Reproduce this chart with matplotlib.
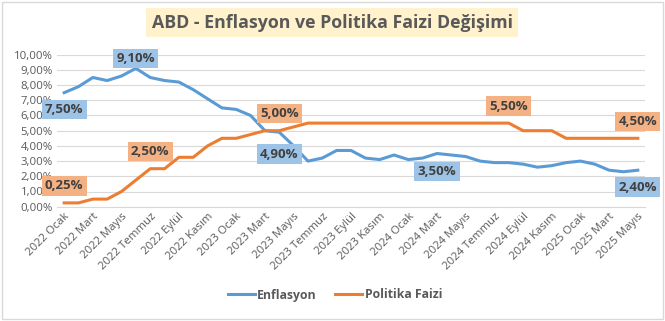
import matplotlib.pyplot as plt
from matplotlib.ticker import FuncFormatter
from matplotlib.patches import Rectangle

# --- datos ---
yillar = [2022] * 12 + [2023] * 12 + [2024] * 12 + [2025] * 5
aylar_ad = ['Ocak', 'Şubat', 'Mart', 'Nisan', 'Mayıs', 'Haziran', 'Temmuz',
            'Ağustos', 'Eylül', 'Ekim', 'Kasım', 'Aralık']
donemler = [f"{y} {aylar_ad[i % 12]}" for i, y in enumerate(yillar)]

enflasyon = [7.5, 7.9, 8.5, 8.3, 8.6, 9.1, 8.5, 8.3, 8.2, 7.7, 7.1, 6.5,
             6.4, 6.0, 5.0, 4.9, 4.0, 3.0, 3.2, 3.7, 3.7, 3.2, 3.1, 3.4,
             3.1, 3.2, 3.5, 3.4, 3.3, 3.0, 2.9, 2.9, 2.8, 2.6, 2.7, 2.9,
             3.0, 2.8, 2.4, 2.3, 2.4]
faiz = [0.25, 0.25, 0.5, 0.5, 1.0, 1.75, 2.5, 2.5, 3.25, 3.25, 4.0, 4.5,
        4.5, 4.75, 5.0, 5.0, 5.25, 5.5, 5.5, 5.5, 5.5, 5.5, 5.5, 5.5,
        5.5, 5.5, 5.5, 5.5, 5.5, 5.5, 5.5, 5.5, 5.0, 5.0, 5.0, 4.5,
        4.5, 4.5, 4.5, 4.5, 4.5]

# etiketli noktalar: (indeks, dikey kayma px)
etiket_enf = [(0, -17), (5, 10), (15, -22), (26, -18), (40, -17)]
etiket_faiz = [(0, 17), (6, 17), (15, 17), (31, 17), (40, 17)]

azul = '#5B9BD5'
naranja = '#ED7D31'
gris = '#595959'

plt.rcParams['font.family'] = ['Open Sans', 'DejaVu Sans']

fig = plt.figure(figsize=(6.65, 3.21), dpi=100)
ax = fig.add_axes([57 / 665, 1 - 206.7 / 321, 588 / 665, 152 / 321])

x = list(range(len(donemler)))
ax.plot(x, enflasyon, color=azul, linewidth=2.2, label='Enflasyon', solid_joinstyle='round')
ax.plot(x, faiz, color=naranja, linewidth=2.2, label='Politika Faizi', solid_joinstyle='round')

def etiket(seri, lista, fondo):
    for i, dy in lista:
        ax.annotate(f"{seri[i]:.2f}%".replace('.', ','), (i, seri[i]),
                    xytext=(0, dy), textcoords='offset pixels',
                    ha='center', va='center', fontsize=9.5, fontweight='bold',
                    color='#404040',
                    bbox=dict(boxstyle='square,pad=0.25', fc=fondo, ec='none'))

etiket(enflasyon, etiket_enf, '#9DC3E6')
etiket(faiz, etiket_faiz, '#F4B183')

ax.set_xlim(-0.5, len(x) - 0.5)
ax.set_ylim(0, 10)
ax.set_yticks(range(0, 11))
ax.yaxis.set_major_formatter(FuncFormatter(lambda v, p: f"{v:.2f}%".replace('.', ',')))
ax.set_xticks(x[::2])
ax.set_xticklabels(donemler[::2], rotation=45, ha='right', rotation_mode='anchor')
ax.tick_params(axis='both', length=0, labelsize=8.2, colors=gris, pad=3)
ax.grid(axis='y', color='#D9D9D9', linewidth=0.8)
ax.set_axisbelow(True)
for s in ax.spines.values():
    s.set_visible(False)
ax.spines['bottom'].set_visible(True)
ax.spines['bottom'].set_color('#D9D9D9')

fig.text(332 / 665, 1 - 22.5 / 321, 'ABD - Enflasyon ve Politika Faizi Değişimi',
         ha='center', va='center', fontsize=12.8, fontweight='bold', color=gris,
         bbox=dict(boxstyle='square,pad=0.3', fc='#FFF2CC', ec='none'))

fig.legend(loc='center', bbox_to_anchor=(335 / 665, 1 - 295 / 321), ncol=2, frameon=False,
           handlelength=2.2, handletextpad=0.2, columnspacing=1.5,
           prop={'weight': 'bold', 'size': 8.8})
for t in fig.legends[0].get_texts():
    t.set_color(gris)

fig.patches.append(Rectangle((2 / 665, 2 / 321), 661 / 665, 317 / 321, transform=fig.transFigure,
                             fill=False, ec='#D9D9D9', lw=1))

fig.savefig('out.png', dpi=100)
